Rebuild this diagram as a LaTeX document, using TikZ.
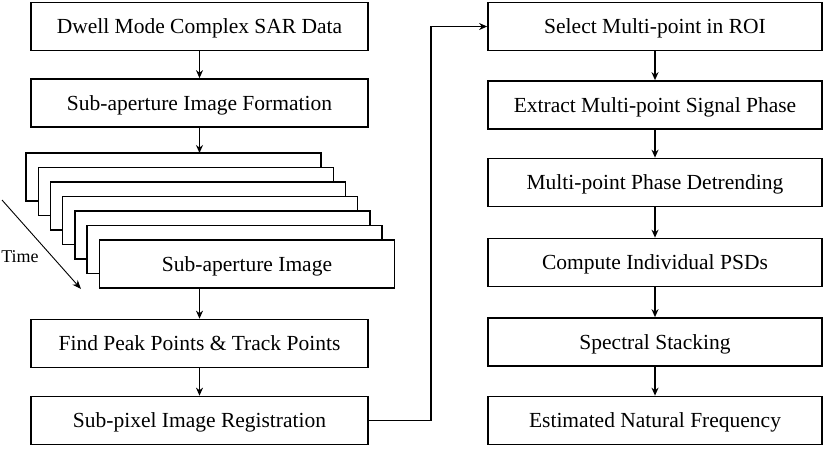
\documentclass[tikz,border=0pt]{standalone}
\usepackage{fontspec}
\setmainfont{Liberation Serif}
\usetikzlibrary{arrows.meta}
\begin{document}
\begin{tikzpicture}[x=1pt,y=-1pt,
  box/.style={draw=black,line width=1.7pt,fill=white,minimum height=48pt,inner sep=0pt,text height=14pt,text depth=0pt,font=\fontsize{21.5}{24}\selectfont},
  lbox/.style={box,minimum width=337pt},
  rbox/.style={box,minimum width=334pt},
  sheet/.style={draw=black,line width=1.4pt,fill=white},
  arr/.style={line width=1.7pt,-{Stealth[length=8pt,width=7pt]}}]
\useasboundingbox (0,0) rectangle (828,448);
% left column
\node[lbox] (dwell) at (199.5,26.5) {Dwell Mode Complex SAR Data};
\node[lbox] (form) at (199.5,103) {Sub-aperture Image Formation};
% stack of sheets
\foreach \i in {0,...,5}{
  \draw[sheet] (26+12.2*\i,153+14.5*\i) rectangle ++(295,48);
}
\node[box,minimum width=295pt,minimum height=48pt,line width=1.4pt] (sub) at (247,264) {Sub-aperture Image};
\coordinate (stacktop) at (199.5,153);
\coordinate (stackbot) at (199.5,288);
\node[lbox] (peak) at (199.5,343.5) {Find Peak Points \& Track Points};
\node[lbox] (reg) at (199.5,420.5) {Sub-pixel Image Registration};
% time arrow
\coordinate (t1) at (2,200);
\coordinate (t2) at (81,289);
\draw[line width=0.9pt,-{Stealth[length=9pt,width=7pt]}] (t1) -- (t2);
\node[font=\fontsize{18}{20}\selectfont,inner sep=0pt] (time) at (20,257) {Time};
% right column
\node[rbox] (sel) at (655,26.5) {Select Multi-point in ROI};
\node[rbox] (ext) at (655,105) {Extract Multi-point Signal Phase};
\node[rbox] (det) at (655,182.5) {Multi-point Phase Detrending};
\node[rbox] (psd) at (655,262.5) {Compute Individual PSDs};
\node[rbox] (stk) at (655,342) {Spectral Stacking};
\node[rbox] (nat) at (655,420.5) {Estimated Natural Frequency};
% arrows
\draw[arr] (dwell) -- (form);
\draw[arr] (form) -- (stacktop);
\draw[arr] (stackbot) -- (peak);
\draw[arr] (peak) -- (reg);
\draw[arr] (reg.east) -- ++(62,0) |- (sel.west);
\draw[arr] (sel) -- (ext);
\draw[arr] (ext) -- (det);
\draw[arr] (det) -- (psd);
\draw[arr] (psd) -- (stk);
\draw[arr] (stk) -- (nat);
\end{tikzpicture}
\end{document}
